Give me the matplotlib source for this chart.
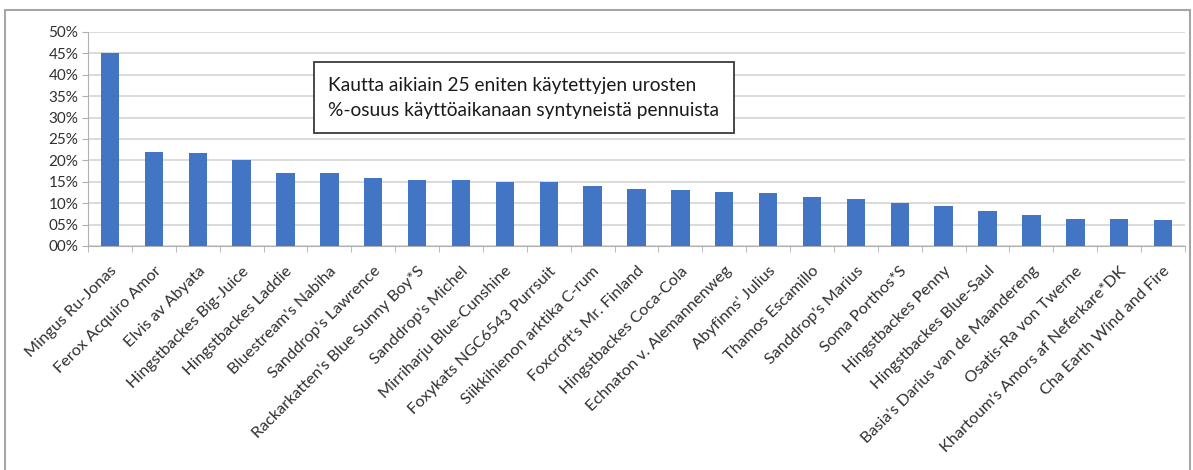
import matplotlib
matplotlib.use('Agg')
import matplotlib.pyplot as plt
import numpy as np
from matplotlib.patches import Rectangle
from matplotlib.ticker import FuncFormatter, FixedLocator

plt.rcParams['font.family'] = ['Lato', 'DejaVu Sans']

uros = [
    "Mingus Ru-Jonas", "Ferox Acquiro Amor", "Elvis av Abyata",
    "Hingstbackes Big-Juice", "Hingstbackes Laddie", "Bluestream's Nabiha",
    "Sanddrop's Lawrence", "Rackarkatten's Blue Sunny Boy*S",
    "Sanddrop's Michel", "Mirriharju Blue-Cunshine",
    "Foxykats NGC6543 Purrsuit", "Siikkihienon arktika C-rum",
    "Foxcroft's Mr. Finland", "Hingstbackes Coca-Cola",
    "Echnaton v. Alemannenweg", "Abyfinns' Julius", "Thamos Escamillo",
    "Sanddrop's Marius", "Soma Porthos*S", "Hingstbackes Penny",
    "Hingstbackes Blue-Saul", "Basia's Darius van de Maandereng",
    "Osatis-Ra von Twerne", "Khartoum's Amors af Neferkare*DK",
    "Cha Earth Wind and Fire",
]
osuus = [
    0.452, 0.220, 0.218, 0.201, 0.171, 0.171, 0.160, 0.154, 0.154, 0.150,
    0.150, 0.139, 0.132, 0.131, 0.125, 0.123, 0.115, 0.109, 0.101, 0.094,
    0.082, 0.072, 0.062, 0.062, 0.061,
]
otsikko = ("Kautta aikiain 25 eniten käytettyjen urosten\n"
           "%-osuus käyttöaikanaan syntyneistä pennuista")

fig = plt.figure(figsize=(11.93, 4.70), dpi=100)
ax = fig.add_axes([0.0738, 0.4766, 0.9195, 0.4554])

x = np.arange(len(uros))
ax.bar(x, osuus, width=0.42, color='#4275c4', zorder=3)

ax.set_xlim(-0.5, len(uros) - 0.5)
ax.set_ylim(0, 0.5)
ax.set_yticks(np.arange(0, 0.501, 0.05))
ax.yaxis.set_major_formatter(FuncFormatter(lambda v, p: '%02d%%' % round(v * 100)))
ax.grid(axis='y', color='#d4d4d4', linewidth=1.2, zorder=0)

ax.set_xticks(x)
ax.set_xticklabels(uros, rotation=45, ha='right', rotation_mode='anchor',
                   fontsize=11.7, color='#303030')
ax.xaxis.set_minor_locator(FixedLocator(np.arange(-0.5, len(uros), 1.0)))
ax.tick_params(axis='x', which='major', length=0, pad=13)
ax.tick_params(axis='x', which='minor', length=4, color='#b0b0b0')
ax.tick_params(axis='y', length=4, color='#b0b0b0', labelsize=11,
               labelcolor='#303030', pad=3)

for side in ['top', 'right']:
    ax.spines[side].set_visible(False)
ax.spines['left'].set_color('#b0b0b0')
ax.spines['bottom'].set_color('#b0b0b0')

ax.text(0.219, 0.692, otsikko, transform=ax.transAxes, fontsize=13.8,
        color='#1a1a1a', va='center', ha='left', linespacing=1.6,
        bbox=dict(boxstyle='square,pad=0.75', facecolor='white',
                  edgecolor='#3a3a3a', linewidth=1.3), zorder=5)

# outer chart frame
fig.patches.append(Rectangle((5 / 1193, -0.05), 1185 / 1193, 1.05 - 10 / 470,
                             transform=fig.transFigure, fill=False,
                             edgecolor='#a6a6a6', linewidth=1.5))

fig.savefig('out.png', dpi=100)
